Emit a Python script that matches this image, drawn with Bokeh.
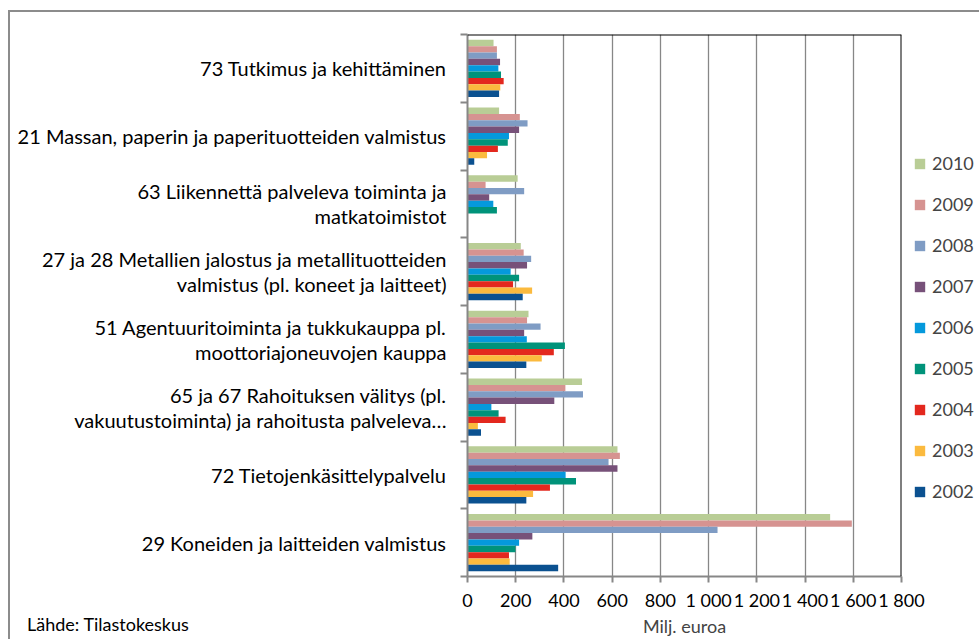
from bokeh.plotting import figure
from bokeh.layouts import column
from bokeh.models import (FixedTicker, Legend, LegendItem, Span, Div,
                          ColumnDataSource, Range1d)
from bokeh.embed import file_html
from bokeh.resources import INLINE

# ---- data (categories listed top to bottom) ----
categories = [
    "73 Tutkimus ja kehittäminen",
    "21 Massan, paperin ja paperituotteiden valmistus",
    "63 Liikennettä palveleva toiminta ja\nmatkatoimistot",
    "27 ja 28 Metallien jalostus ja metallituotteiden\nvalmistus (pl. koneet ja laitteet)",
    "51 Agentuuritoiminta ja tukkukauppa pl.\nmoottoriajoneuvojen kauppa",
    "65 ja 67 Rahoituksen välitys (pl.\nvakuutustoiminta) ja rahoitusta palveleva…",
    "72 Tietojenkäsittelypalvelu",
    "29 Koneiden ja laitteiden valmistus",
]
years = ["2010", "2009", "2008", "2007", "2006", "2005", "2004", "2003", "2002"]
v2010 = [108, 131, 208, 221, 253, 475, 622, 1504]
v2009 = [122, 217, 75, 233, 247, 406, 632, 1594]
v2008 = [122, 249, 235, 264, 303, 479, 585, 1037]
v2007 = [135, 214, 90, 247, 235, 360, 622, 269]
v2006 = [128, 172, 107, 179, 246, 99, 407, 214]
v2005 = [139, 167, 122, 214, 404, 129, 450, 199]
v2004 = [150, 126, 0, 189, 358, 158, 342, 172]
v2003 = [136, 81, 0, 268, 308, 43, 272, 175]
v2002 = [131, 28, 0, 229, 244, 56, 244, 376]
series = [v2010, v2009, v2008, v2007, v2006, v2005, v2004, v2003, v2002]
colors = ["#B9CD96", "#D69391", "#7F9CC4", "#775179", "#0599DC",
          "#00937A", "#E3281E", "#FBBA3E", "#0B5190"]
x_ticks = [0, 200, 400, 600, 800, 1000, 1200, 1400, 1600, 1800]
x_tick_labels = ["0", "200", "400", "600", "800", "1 000", "1 200", "1 400", "1 600", "1 800"]
x_title = "Milj. euroa"
source_note = "Lähde: Tilastokeskus"

FONT = "Lato"
GREY = "#878787"

n = len(categories)
bar_h = 0.0937

p = figure(width=969, height=629, frame_width=432,
           x_range=Range1d(0, 1800), y_range=Range1d(0, n),
           output_backend="svg", toolbar_location=None,
           min_border_left=457, min_border_top=22, min_border_bottom=65,
           min_border_right=0)
p.outline_line_color = None
p.styles = {"border-top": "2px solid #8C8C8C", "border-left": "2px solid #8C8C8C",
            "margin-left": "8px", "margin-top": "10px"}

centers = [n - 1 - i + 0.5 for i in range(n)]
items = []
for j, (yr, vals, col) in enumerate(zip(years, series, colors)):
    off = (4 - j) * bar_h
    src = ColumnDataSource(dict(y=[c + off for c in centers], v=vals, cat=categories))
    r = p.hbar(y="y", left=0, right="v", height=bar_h, source=src,
               fill_color=col, line_color=None)
    items.append(LegendItem(label=yr, renderers=[r]))

# x axis
p.xaxis.ticker = FixedTicker(ticks=x_ticks)
p.xaxis.major_label_overrides = {t: l for t, l in zip(x_ticks, x_tick_labels)}
p.xaxis.axis_line_color = GREY
p.xaxis.axis_line_width = 2
p.xaxis.major_tick_line_color = GREY
p.xaxis.major_tick_line_width = 2
p.xaxis.major_tick_out = 6
p.xaxis.major_tick_in = 0
p.xaxis.minor_tick_line_color = None
p.xaxis.major_label_text_font = FONT
p.xaxis.major_label_text_font_size = "18px"
p.xaxis.major_label_text_color = "black"
p.xaxis.major_label_standoff = 6
p.xaxis.axis_label = x_title
p.xaxis.axis_label_text_font = FONT
p.xaxis.axis_label_text_font_size = "18px"
p.xaxis.axis_label_text_font_style = "normal"
p.xaxis.axis_label_standoff = 1

# y axis
p.yaxis.ticker = FixedTicker(ticks=centers, minor_ticks=list(range(n + 1)))
p.yaxis.major_label_overrides = {c: lab for c, lab in zip(centers, categories)}
p.yaxis.axis_line_color = GREY
p.yaxis.axis_line_width = 2
p.yaxis.major_tick_line_color = None
p.yaxis.minor_tick_line_color = GREY
p.yaxis.minor_tick_line_width = 2
p.yaxis.minor_tick_out = 7
p.yaxis.minor_tick_in = 0
p.yaxis.major_label_text_font = FONT
p.yaxis.major_label_text_font_size = "20px"
p.yaxis.major_label_text_color = "black"
p.yaxis.major_label_standoff = 14
p.yaxis.major_label_text_line_height = 1.05

p.xgrid.grid_line_color = GREY
p.xgrid.grid_line_width = 1.3
p.ygrid.grid_line_color = None

p.add_layout(Span(location=1800, dimension="height", line_color="black", line_width=2))
p.add_layout(Span(location=n, dimension="width", line_color="black", line_width=2))

legend = Legend(items=items, location=(12, 74), orientation="vertical",
                glyph_width=13, glyph_height=13, label_height=20, spacing=19,
                padding=0, margin=0, border_line_color=None,
                background_fill_alpha=0, label_standoff=6,
                label_text_font=FONT, label_text_font_size="18px")
p.add_layout(legend, "right")

note = Div(text=source_note, width=220, height=26,
           styles={"position": "absolute", "left": "22px", "top": "609px",
                   "font-family": "Lato", "font-size": "18px",
                   "line-height": "20px", "color": "black", "white-space": "nowrap"})

layout = column(p, note)
open("out.html", "w").write(file_html(layout, INLINE))
